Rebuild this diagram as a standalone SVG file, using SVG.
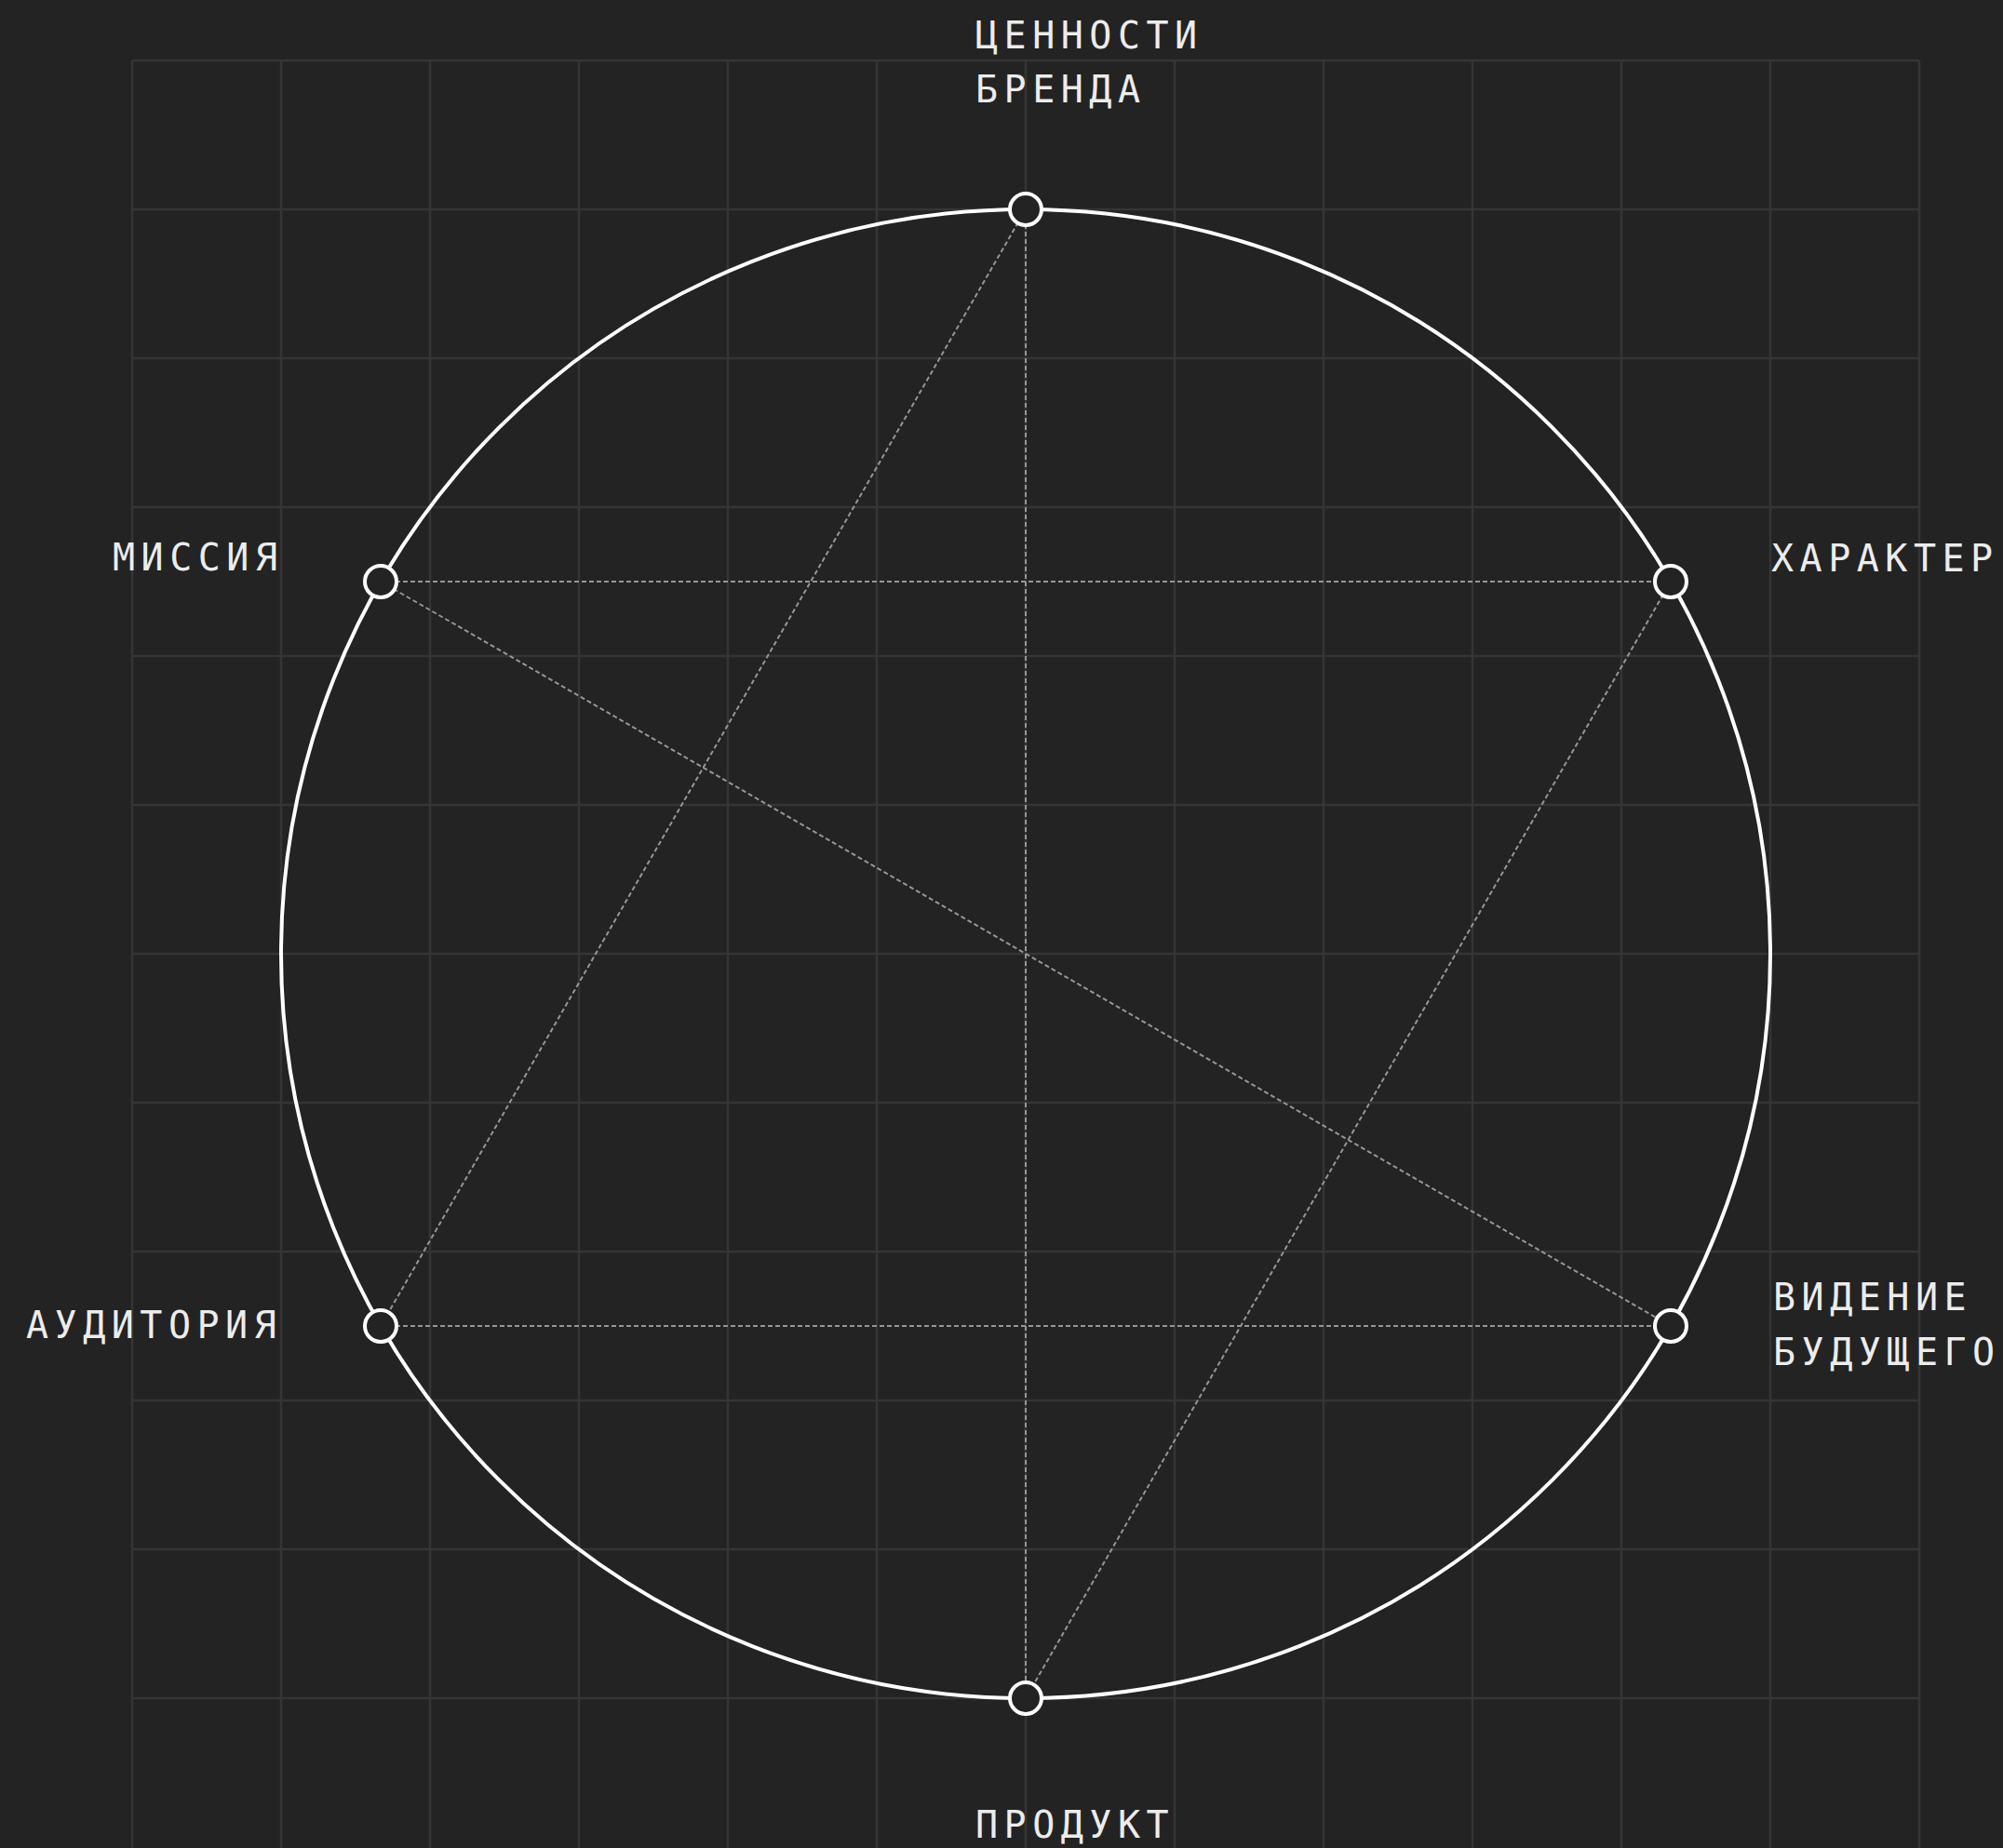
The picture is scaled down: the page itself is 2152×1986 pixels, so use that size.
<svg xmlns="http://www.w3.org/2000/svg" width="2152" height="1986" viewBox="0 0 2152 1986">
<style>
.grid line{stroke:#353535;stroke-width:2.5}
.link{stroke:#969696;stroke-width:2;stroke-dasharray:5 3;fill:none}
.ring{fill:none;stroke:#ffffff;stroke-width:4}
.node circle{fill:#232323;stroke:#ffffff;stroke-width:4}
.lbl{font-family:"DejaVu Sans Mono","Liberation Mono",monospace;font-size:40px;letter-spacing:6.5px;fill:#ececec}
</style>
<rect width="2152" height="1986" fill="#232323"/>
<g class="grid" id="grid">
<line x1="142" y1="65" x2="142" y2="1986"/>
<line x1="302" y1="65" x2="302" y2="1986"/>
<line x1="462" y1="65" x2="462" y2="1986"/>
<line x1="622" y1="65" x2="622" y2="1986"/>
<line x1="782" y1="65" x2="782" y2="1986"/>
<line x1="942" y1="65" x2="942" y2="1986"/>
<line x1="1102" y1="65" x2="1102" y2="1986"/>
<line x1="1262" y1="65" x2="1262" y2="1986"/>
<line x1="1422" y1="65" x2="1422" y2="1986"/>
<line x1="1582" y1="65" x2="1582" y2="1986"/>
<line x1="1742" y1="65" x2="1742" y2="1986"/>
<line x1="1902" y1="65" x2="1902" y2="1986"/>
<line x1="2062" y1="65" x2="2062" y2="1986"/>
<line x1="142" y1="65" x2="2062" y2="65"/>
<line x1="142" y1="225" x2="2062" y2="225"/>
<line x1="142" y1="385" x2="2062" y2="385"/>
<line x1="142" y1="545" x2="2062" y2="545"/>
<line x1="142" y1="705" x2="2062" y2="705"/>
<line x1="142" y1="865" x2="2062" y2="865"/>
<line x1="142" y1="1025" x2="2062" y2="1025"/>
<line x1="142" y1="1185" x2="2062" y2="1185"/>
<line x1="142" y1="1345" x2="2062" y2="1345"/>
<line x1="142" y1="1505" x2="2062" y2="1505"/>
<line x1="142" y1="1665" x2="2062" y2="1665"/>
<line x1="142" y1="1825" x2="2062" y2="1825"/>
</g>
<g id="connectors">
<line class="link" x1="1102" y1="225" x2="1102" y2="1825"/>
<line class="link" x1="1102" y1="225" x2="409" y2="1425"/>
<line class="link" x1="409" y1="625" x2="1795" y2="625"/>
<line class="link" x1="409" y1="625" x2="1795" y2="1425"/>
<line class="link" x1="1795" y1="625" x2="1102" y2="1825"/>
<line class="link" x1="409" y1="1425" x2="1795" y2="1425"/>
</g>
<circle class="ring" cx="1102" cy="1025" r="800"/>
<g id="node-values" class="node">
<circle cx="1102" cy="225" r="17"/>
<text class="lbl" x="1048" y="52">ЦЕННОСТИ</text>
<text class="lbl" x="1048" y="110">БРЕНДА</text>
</g>
<g id="node-character" class="node">
<circle cx="1795" cy="625" r="17"/>
<text class="lbl" x="1903" y="614">ХАРАКТЕР</text>
</g>
<g id="node-vision" class="node">
<circle cx="1795" cy="1425" r="17"/>
<text class="lbl" x="1905" y="1408">ВИДЕНИЕ</text>
<text class="lbl" x="1905" y="1467">БУДУЩЕГО</text>
</g>
<g id="node-product" class="node">
<circle cx="1102" cy="1825" r="17"/>
<text class="lbl" x="1048" y="1975">ПРОДУКТ</text>
</g>
<g id="node-audience" class="node">
<circle cx="409" cy="1425" r="17"/>
<text class="lbl" x="28" y="1438">АУДИТОРИЯ</text>
</g>
<g id="node-mission" class="node">
<circle cx="409" cy="625" r="17"/>
<text class="lbl" x="121" y="613">МИССИЯ</text>
</g>
</svg>
